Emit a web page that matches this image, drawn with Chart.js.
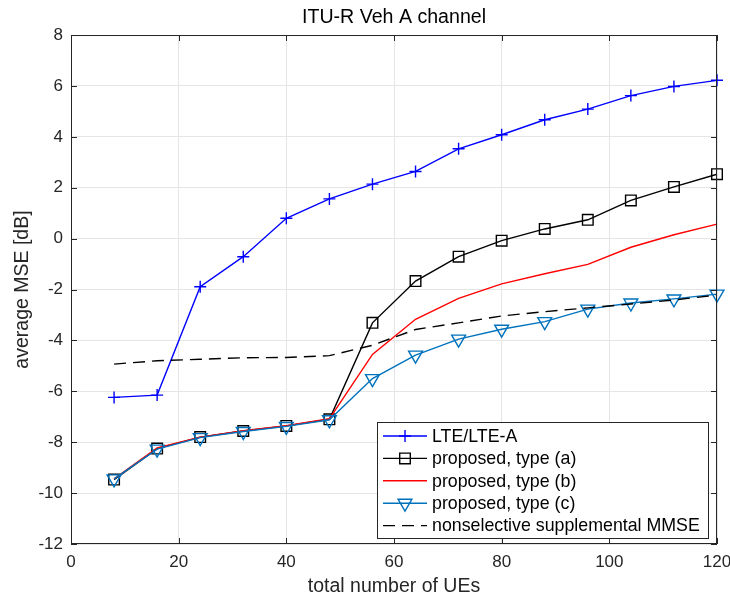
<!DOCTYPE html>
<html lang="en">
<head>
  <meta charset="UTF-8" />
  <title>ITU-R Veh A channel</title>
  <script src="https://cdn.jsdelivr.net/npm/chart.js"></script>
  <style>
    html, body { margin: 0; padding: 0; background: #fff; }
    #wrap { width: 730px; height: 597px; }
  </style>
</head>
<body>
<div id="wrap"><canvas id="mseChart" width="730" height="597"></canvas></div>

<script>
  // values
  const numUEs = [8, 16, 24, 32, 40, 48, 56, 64, 72, 80, 88, 96, 104, 112, 120];
  const lteMse = [-6.24, -6.15, -1.89, -0.71, 0.80, 1.56, 2.14, 2.64, 3.53, 4.08, 4.67, 5.09, 5.62, 5.98, 6.22];
  const typeA = [-9.47, -8.25, -7.80, -7.56, -7.36, -7.10, -3.31, -1.67, -0.71, -0.08, 0.38, 0.74, 1.50, 2.03, 2.53];
  const typeB = [-9.44, -8.22, -7.80, -7.55, -7.35, -7.08, -4.55, -3.17, -2.35, -1.78, -1.38, -1.01, -0.34, 0.15, 0.57];
  const typeC = [-9.44, -8.27, -7.82, -7.58, -7.38, -7.12, -5.50, -4.58, -3.95, -3.56, -3.26, -2.77, -2.53, -2.37, -2.18];
  const mmseRef = [-4.93, -4.80, -4.74, -4.68, -4.67, -4.60, -4.19, -3.57, -3.31, -3.04, -2.87, -2.72, -2.57, -2.41, -2.22];
  const seriesNames = ['LTE/LTE-A', 'proposed, type (a)', 'proposed, type (b)', 'proposed, type (c)', 'nonselective supplemental MMSE'];
  const xTicks = [0, 20, 40, 60, 80, 100, 120];
  const yTicks = [-12, -10, -8, -6, -4, -2, 0, 2, 4, 6, 8];

  const FONT = "'Liberation Sans', Arial, Helvetica, sans-serif";
  const INK = '#262626';
  Chart.defaults.font.family = FONT;
  Chart.defaults.color = INK;

  const toPts = vals => numUEs.map((u, i) => ({ x: u, y: vals[i] }));

  function series(label, vals, color, extra) {
    return Object.assign({
      label,
      data: toPts(vals),
      borderColor: color,
      backgroundColor: 'rgba(0,0,0,0)',
      pointBorderColor: color,
      pointBackgroundColor: 'rgba(0,0,0,0)',
      borderWidth: 1.4,
      pointBorderWidth: 1.4,
      pointRadius: 0,
      pointHoverRadius: 0,
      tension: 0,
      clip: false
    }, extra);
  }

  // box with inward ticks, like the original plot
  const boxPlugin = {
    id: 'boxPlugin',
    afterDatasetsDraw(chart) {
      const { ctx, chartArea: a, scales: { x, y } } = chart;
      ctx.save();
      ctx.strokeStyle = INK;
      ctx.lineWidth = 1;
      ctx.strokeRect(a.left + 0.5, a.top + 0.5, a.right - a.left - 1, a.bottom - a.top - 1);
      ctx.beginPath();
      xTicks.forEach(v => {
        const px = Math.round(x.getPixelForValue(v)) + 0.5;
        ctx.moveTo(px, a.bottom); ctx.lineTo(px, a.bottom - 6);
        ctx.moveTo(px, a.top); ctx.lineTo(px, a.top + 6);
      });
      yTicks.forEach(v => {
        const py = Math.round(y.getPixelForValue(v)) + 0.5;
        ctx.moveTo(a.left, py); ctx.lineTo(a.left + 6, py);
        ctx.moveTo(a.right, py); ctx.lineTo(a.right - 6, py);
      });
      ctx.stroke();
      ctx.restore();
    }
  };

  // legend box inside the lower right corner
  const legendPlugin = {
    id: 'insideLegend',
    afterDraw(chart) {
      const { ctx, chartArea: a } = chart;
      const w = 331, h = 116;
      const left = a.right - 9 - w, top = a.bottom - 6 - h;
      ctx.save();
      ctx.fillStyle = '#fff';
      ctx.fillRect(left, top, w, h);
      ctx.strokeStyle = INK;
      ctx.lineWidth = 1;
      ctx.strokeRect(left + 0.5, top + 0.5, w, h);
      ctx.font = '17.8px ' + FONT;
      ctx.textBaseline = 'middle';
      chart.data.datasets.forEach((ds, i) => {
        const yy = top + 14 + i * 22.4;
        ctx.save();
        ctx.strokeStyle = ds.borderColor;
        ctx.lineWidth = ds.borderWidth;
        ctx.setLineDash(ds.borderDash || []);
        ctx.beginPath();
        ctx.moveTo(left + 6, yy);
        ctx.lineTo(left + 50, yy);
        ctx.stroke();
        ctx.setLineDash([]);
        if (ds.pointRadius > 0) {
          ctx.fillStyle = 'rgba(0,0,0,0)';
          ctx.strokeStyle = ds.pointBorderColor;
          ctx.lineWidth = ds.pointBorderWidth;
          Chart.helpers.drawPoint(ctx, {
            pointStyle: ds.pointStyle,
            radius: ds.pointRadius,
            rotation: ds.pointRotation || 0,
            borderWidth: ds.pointBorderWidth
          }, left + 28, yy);
        }
        ctx.restore();
        ctx.fillStyle = '#000';
        ctx.fillText(ds.label, left + 55, yy + 1);
      });
      ctx.restore();
    }
  };

  new Chart(document.getElementById('mseChart').getContext('2d'), {
    type: 'line',
    data: {
      datasets: [
        series(seriesNames[0], lteMse, '#0000ff', { pointStyle: 'cross', pointRadius: 6, order: 5 }),
        series(seriesNames[1], typeA, '#000000', { pointStyle: 'rect', pointRadius: 7.5, order: 4 }),
        series(seriesNames[2], typeB, '#ff0000', { order: 3 }),
        series(seriesNames[3], typeC, '#0072BD', { pointStyle: 'triangle', pointRadius: 8, pointRotation: 180, order: 2 }),
        series(seriesNames[4], mmseRef, '#000000', { borderDash: [12, 7], order: 1 })
      ]
    },
    options: {
      responsive: false,
      animation: false,
      layout: { padding: { right: 13 } },
      plugins: {
        legend: { display: false },
        tooltip: { enabled: false },
        title: {
          display: true,
          text: 'ITU-R Veh A channel',
          fullSize: false,
          color: '#000',
          font: { size: 19.6, weight: 'normal' },
          padding: { top: 6, bottom: 5.5 }
        }
      },
      scales: {
        x: {
          type: 'linear',
          min: 0, max: 120,
          afterBuildTicks(scale) { scale.ticks = xTicks.map(v => ({ value: v })); },
          afterFit(scale) {
            scale.height = 53;
            scale.paddingLeft = 0;
            scale.paddingRight = 0;
          },
          grid: { color: '#e5e5e5', drawTicks: false },
          border: { display: false },
          ticks: { padding: 8, color: INK, font: { size: 17 } },
          title: {
            display: true,
            text: 'total number of UEs',
            color: INK,
            font: { size: 19.5 },
            padding: { top: 0, bottom: -1 }
          }
        },
        y: {
          type: 'linear',
          min: -12, max: 8,
          afterBuildTicks(scale) { scale.ticks = yTicks.map(v => ({ value: v })); },
          afterFit(scale) {
            scale.width = 71;
            scale.paddingTop = 0;
            scale.paddingBottom = 0;
          },
          grid: { color: '#e5e5e5', drawTicks: false },
          border: { display: false },
          ticks: { padding: 8, color: INK, font: { size: 17 } },
          title: {
            display: true,
            text: 'average MSE [dB]',
            color: INK,
            font: { size: 19.5 },
            padding: { top: 11, bottom: 0 }
          }
        }
      }
    },
    plugins: [boxPlugin, legendPlugin]
  });
</script>
</body>
</html>
